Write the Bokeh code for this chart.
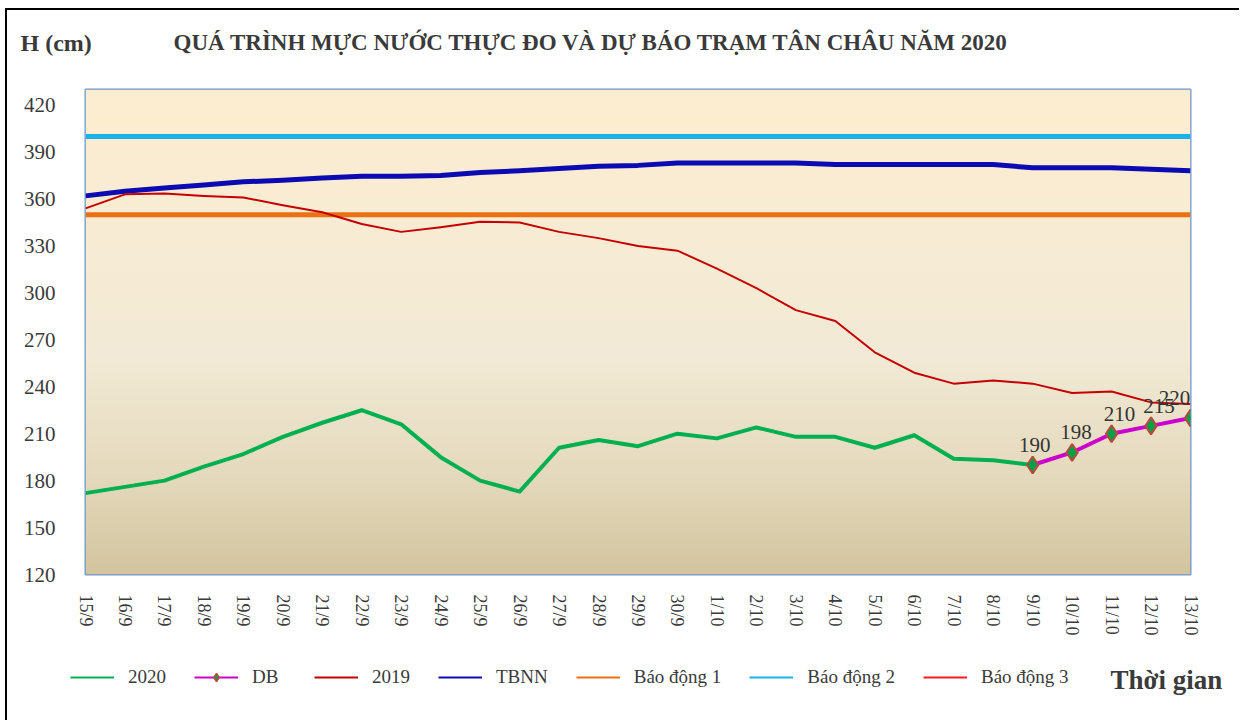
import numpy as np
from bokeh.plotting import figure
from bokeh.layouts import column
from bokeh.models import Range1d, FixedTicker, Legend, LegendItem, Label
from bokeh.embed import file_html
from bokeh.resources import INLINE
from bokeh.core.properties import value

# ---------------- data ----------------
dates = ["15/9", "16/9", "17/9", "18/9", "19/9", "20/9", "21/9", "22/9", "23/9", "24/9",
         "25/9", "26/9", "27/9", "28/9", "29/9", "30/9", "1/10", "2/10", "3/10", "4/10",
         "5/10", "6/10", "7/10", "8/10", "9/10", "10/10", "11/10", "12/10", "13/10"]

# observed 2020 (15/9 .. 9/10)
h2020 = [172, 176, 180, 189, 197, 208, 217, 225, 216, 195, 180, 173, 201, 206, 202,
         210, 207, 214, 208, 208, 201, 209, 194, 193, 190]

# forecast DB (9/10 .. 13/10)
db = [190, 198, 210, 215, 220]

# 2019
h2019 = [354, 363, 363.5, 362, 361, 356, 351.5, 344, 339, 342, 345.5, 345, 339, 335, 330,
         327, 315.5, 303, 289, 282, 262, 249, 242, 244, 242, 236, 237, 230, 229]

# TBNN (multi-year average)
tbnn = [362, 365, 367, 369, 371, 372, 373.5, 374.5, 374.5, 375, 377, 378, 379.5, 381, 381.5,
        383, 383, 383, 383, 382, 382, 382, 382, 382, 380, 380, 380, 379, 378]

bao_dong_1 = 350
bao_dong_2 = 400
bao_dong_3 = 450

y_ticks = [120, 150, 180, 210, 240, 270, 300, 330, 360, 390, 420]

series_names = ["2020", "DB", "2019", "TBNN", "Báo động 1", "Báo động 2", "Báo động 3"]
title_text = "QUÁ TRÌNH MỰC NƯỚC THỰC ĐO VÀ DỰ BÁO TRẠM TÂN CHÂU NĂM 2020"
y_title = "H (cm)"
x_title = "Thời gian"

x_all = list(range(len(dates)))
x_2020 = x_all[:len(h2020)]
x_db = x_all[len(h2020) - 1:len(h2020) - 1 + len(db)]

FONT_NAME = "Liberation Serif"
FONT = value(FONT_NAME)
TXT = "#3a3a3a"
W = 1232

C_2020, C_DB, C_2019, C_TBNN = "#00B050", "#CC00CC", "#C40000", "#0C0AB2"
C_BD1, C_BD2, C_BD3 = "#EA7014", "#1AB2EA", "#FF1A1A"


def blank(height):
    f = figure(width=W, height=height, output_backend="svg", toolbar_location=None,
               x_axis_type=None, y_axis_type=None, x_range=Range1d(0, W), y_range=Range1d(0, height),
               min_border=0, outline_line_color=None, frame_align=False)
    f.grid.visible = False
    f.title.visible = False
    return f


# ---------------- header ----------------
head = blank(60)
head.add_layout(Label(x=13, y=28, x_units="screen", y_units="screen", text=y_title,
                      text_font=FONT_NAME, text_font_size="24px", text_font_style="bold",
                      text_color=TXT, text_baseline="alphabetic"))
head.add_layout(Label(x=166, y=28, x_units="screen", y_units="screen", text=title_text,
                      text_font=FONT_NAME, text_font_size="23px", text_font_style="bold",
                      text_color=TXT, text_baseline="alphabetic"))

# ---------------- main chart ----------------
p = figure(width=W, height=580, output_backend="svg", toolbar_location=None,
           x_range=Range1d(0, len(dates) - 1), y_range=Range1d(120, 430),
           min_border_left=78, min_border_right=49, min_border_top=19, min_border_bottom=76)
p.title.visible = False

# gradient background (decoration)
stops = [(0.0, (253, 237, 208)), (0.55, (242, 234, 214)), (0.8, (228, 217, 188)), (1.0, (210, 196, 158))]
n = 240
img = np.empty((n, 1), dtype=np.uint32)
view = img.view(dtype=np.uint8).reshape((n, 1, 4))
fr = [s[0] for s in stops]
for ch in range(3):
    vals = [s[1][ch] for s in stops]
    for i in range(n):
        f = 1 - i / (n - 1)
        view[i, 0, ch] = int(round(np.interp(f, fr, vals)))
view[:, 0, 3] = 255
p.image_rgba(image=[img], x=0, y=120, dw=len(dates) - 1, dh=310)

p.background_fill_color = "#F2EAD6"
p.border_fill_color = "white"
p.outline_line_color = "#6B96CC"
p.outline_line_width = 2

p.line(x_all, [bao_dong_1] * len(dates), line_color=C_BD1, line_width=5)
p.line(x_all, [bao_dong_2] * len(dates), line_color=C_BD2, line_width=5)
p.line(x_all, [bao_dong_3] * len(dates), line_color=C_BD3, line_width=2)

p.line(x_all, tbnn, line_color=C_TBNN, line_width=5, line_join="round")
p.line(x_all, h2019, line_color=C_2019, line_width=2, line_join="round")
p.line(x_2020, h2020, line_color=C_2020, line_width=4, line_join="round")
p.line(x_db, db, line_color=C_DB, line_width=4, line_join="round")
p.scatter(x_db, db, marker="diamond", size=17, fill_color="#00A04A",
          line_color="#B84A3A", line_width=2)
label_dx = [2, 4, 8, 8, -16]
p.text(x=x_db, y=db, text=[str(v) for v in db], x_offset=label_dx, y_offset=-13,
       text_align="center", text_baseline="bottom", text_font=FONT,
       text_font_size="21px", text_color="#333333")

p.xgrid.visible = False
p.ygrid.visible = False
p.xaxis.ticker = FixedTicker(ticks=x_all)
p.xaxis.major_label_overrides = {i: d for i, d in enumerate(dates)}
p.xaxis.major_label_orientation = "vertical"
p.xaxis.major_label_standoff = 14
p.yaxis.ticker = FixedTicker(ticks=y_ticks)
p.yaxis.major_label_standoff = 24
for ax in (p.xaxis, p.yaxis):
    ax.axis_line_color = None
    ax.major_tick_line_color = None
    ax.minor_tick_line_color = None
    ax.major_label_text_font = FONT_NAME
    ax.major_label_text_color = TXT
p.xaxis.major_label_text_font_size = "18px"
p.yaxis.major_label_text_font_size = "21px"

# ---------------- footer: legend + x title ----------------
foot = blank(70)


def key_line(color):
    return foot.line(x_all, tbnn, line_color=color, line_width=2, visible=False)


k_db_m = foot.scatter(x_db, db, marker="diamond", size=10, fill_color="#00A04A",
                      line_color="#B84A3A", line_width=1.5, visible=False)
key_renderers = [[key_line(C_2020)], [key_line(C_DB), k_db_m], [key_line(C_2019)],
                 [key_line(C_TBNN)], [key_line(C_BD1)], [key_line(C_BD2)], [key_line(C_BD3)]]

leg = Legend(items=[LegendItem(label=nm, renderers=rs) for nm, rs in zip(series_names, key_renderers)],
             location=(63, 32), orientation="horizontal", padding=0, margin=0,
             border_line_color=None, background_fill_alpha=0, inactive_fill_alpha=0,
             glyph_width=44, glyph_height=20, label_height=20, label_width=34,
             label_standoff=14, spacing=28, label_text_font=FONT_NAME,
             label_text_font_size="19px", label_text_color=TXT)
foot.add_layout(leg)
foot.add_layout(Label(x=1103, y=41, x_units="screen", y_units="screen", text=x_title,
                      text_font=FONT_NAME, text_font_size="27px", text_font_style="bold",
                      text_color=TXT, text_baseline="alphabetic"))

page = column(head, p, foot, spacing=0)
page.styles = {"border-left": "2px solid black", "border-top": "2px solid black",
               "margin-left": "5px", "margin-top": "8px"}

open("out.html", "w").write(file_html(page, INLINE))
